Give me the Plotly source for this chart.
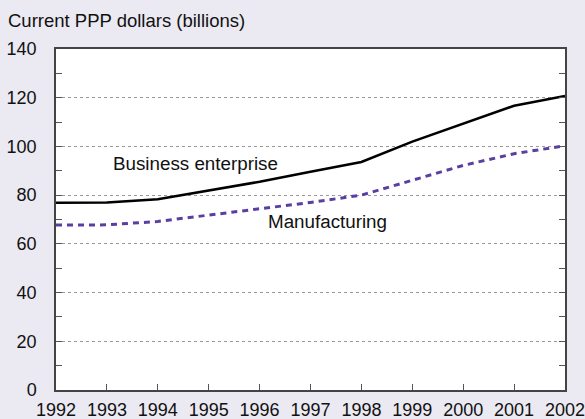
import plotly.graph_objects as go

years = list(range(1992, 2003))
business = [76.9, 77.0, 78.3, 81.8, 85.5, 89.6, 93.6, 102.0, 109.5, 116.7, 120.7]
manufacturing = [67.7, 67.8, 69.2, 71.8, 74.4, 77.0, 80.0, 86.2, 92.2, 97.0, 100.3]
y_ticks = [0, 20, 40, 60, 80, 100, 120, 140]
y_label = "Current PPP dollars (billions)"
series_labels = ["Business enterprise", "Manufacturing"]

font = "Liberation Sans, Arial, sans-serif"
fig = go.Figure()
fig.add_trace(go.Scatter(x=years, y=business, mode="lines", name=series_labels[0],
                         line=dict(color="#000000", width=2.5)))
fig.add_trace(go.Scatter(x=years, y=manufacturing, mode="lines", name=series_labels[1],
                         line=dict(color="#5b3fa0", width=3, dash="6px,5px")))

fig.add_annotation(x=1994.74, y=92.8, text=series_labels[0], showarrow=False,
                   font=dict(size=18.8, color="#111"), yanchor="middle")
fig.add_annotation(x=1997.33, y=69.0, text=series_labels[1], showarrow=False,
                   font=dict(size=18.8, color="#111"), yanchor="middle")
fig.add_annotation(xref="paper", yref="paper", x=-0.098, y=1.085, xanchor="left",
                   yanchor="middle", text=y_label, showarrow=False,
                   font=dict(size=18.5, color="#111"))

fig.update_layout(
    width=585, height=419,
    margin=dict(l=56, r=20, t=49, b=29),
    paper_bgcolor="#ebe9f2", plot_bgcolor="#ffffff",
    showlegend=False,
    font=dict(family=font, color="#111"),
)
fig.update_xaxes(range=[1992, 2002], tickvals=years, ticktext=[str(y) for y in years],
                 ticks="inside", ticklen=6, tickcolor="#555", tickwidth=1,
                 showgrid=False, zeroline=False, automargin=False,
                 ticklabeloverflow="allow", ticklabelstandoff=3,
                 showline=True, linecolor="#444", linewidth=1.5, mirror=True,
                 tickfont=dict(size=18))
fig.update_yaxes(range=[0, 140], tickvals=y_ticks, automargin=False,
                 ticks="inside", ticklen=6, tickcolor="#555", tickwidth=1,
                 minor=dict(tickvals=[10, 30, 50, 70, 90, 110, 130], ticks="inside",
                            ticklen=6, tickcolor="#555", showgrid=False),
                 showgrid=True, gridcolor="#999", griddash="dot", gridwidth=1,
                 zeroline=False,
                 showline=True, linecolor="#444", linewidth=1.5, mirror="ticks",
                 tickfont=dict(size=18), ticklabelstandoff=14)

fig.write_html("out.html", config={"displayModeBar": False},
               post_script="document.body.style.margin='0';document.body.style.background='#ebe9f2';")
